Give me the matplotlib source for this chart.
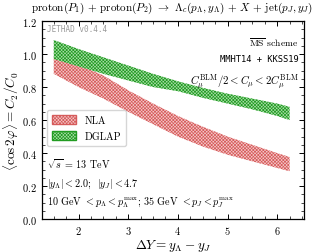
import numpy as np
import matplotlib
matplotlib.use('Agg')
import matplotlib.pyplot as plt
from matplotlib.patches import Patch
from matplotlib.ticker import MultipleLocator

plt.rcParams['font.family'] = 'serif'
plt.rcParams['font.serif'] = ['cmr10', 'DejaVu Serif']
plt.rcParams['mathtext.fontset'] = 'cm'
plt.rcParams['axes.formatter.use_mathtext'] = True
plt.rcParams['hatch.linewidth'] = 0.5

# rapidity interval
dY = [1.5, 2.0, 2.5, 3.0, 3.5, 4.0, 4.5, 5.0, 5.5, 6.0, 6.25]

# NLA band (lower / upper)
nla_lo = [0.88, 0.80, 0.73, 0.65, 0.575, 0.50, 0.44, 0.39, 0.35, 0.31, 0.29]
nla_hi = [0.98, 0.935, 0.87, 0.78, 0.70, 0.625, 0.56, 0.50, 0.45, 0.40, 0.376]

# DGLAP band (lower / upper)
dglap_lo = [0.97, 0.925, 0.88, 0.84, 0.80, 0.775, 0.735, 0.70, 0.665, 0.625, 0.60]
dglap_hi = [1.085, 1.03, 0.98, 0.93, 0.88, 0.835, 0.795, 0.76, 0.73, 0.70, 0.68]

fig = plt.figure(figsize=(3.22, 2.53), dpi=100)
ax = fig.add_axes([0.130, 0.130, 0.814, 0.783])

red_face, red_edge = '#f5c8c8', '#d65c5c'
grn_face, grn_edge = '#a8dca8', '#229c22'
red_hatch = 'x' * 10
grn_hatch = 'x' * 10

ax.fill_between(dY, nla_lo, nla_hi, facecolor=red_face, edgecolor=red_edge,
                hatch=red_hatch, linewidth=0.0)
ax.fill_between(dY, dglap_lo, dglap_hi, facecolor=grn_face, edgecolor=grn_edge,
                hatch=grn_hatch, linewidth=0.0)

ax.set_xlim(1.26, 6.54)
ax.set_ylim(0.0, 1.2)
ax.xaxis.set_major_locator(MultipleLocator(1))
ax.xaxis.set_minor_locator(MultipleLocator(0.25))
ax.yaxis.set_major_locator(MultipleLocator(0.2))
ax.yaxis.set_minor_locator(MultipleLocator(0.05))
ax.tick_params(which='both', direction='in', top=True, right=True, labelsize=7.5)
ax.tick_params(which='major', length=3.5, width=0.7)
ax.tick_params(which='minor', length=2, width=0.5)
for s in ax.spines.values():
    s.set_linewidth(0.9)

ax.set_xlabel(r'$\Delta Y = y_\Lambda - y_J$', fontsize=9.5, labelpad=1)
ax.set_ylabel(r'$\langle \cos 2\varphi \rangle = C_2/C_0$', fontsize=9.5, labelpad=1)
fig.suptitle(r'proton$(P_1)$ + proton$(P_2)$ $\to$ $\Lambda_c(p_\Lambda, y_\Lambda)$ + $X$ + jet$(p_J, y_J)$',
             fontsize=8, x=0.535, y=0.998)

ax.text(0.02, 0.985, 'JETHAD v0.4.4', transform=ax.transAxes, fontsize=5.5,
        family='DejaVu Sans Mono', color='#999999', va='top', ha='left')
ax.text(0.98, 0.93, r'$\overline{\rm MS}$ scheme', transform=ax.transAxes,
        fontsize=7, va='top', ha='right')
ax.text(0.98, 0.835, 'MMHT14 + KKSS19', transform=ax.transAxes, fontsize=6.3,
        family='DejaVu Sans Mono', va='top', ha='right')
ax.text(0.98, 0.745, r'$C_\mu^{\rm BLM}/2 < C_\mu < 2C_\mu^{\rm BLM}$',
        transform=ax.transAxes, fontsize=7.8, va='top', ha='right')

ax.text(0.02, 0.28, r'$\sqrt{s}$ = 13 TeV', transform=ax.transAxes, fontsize=7.3, va='center')
ax.text(0.02, 0.18, r'$|y_\Lambda| < 2.0$;  $|y_J| < 4.7$', transform=ax.transAxes,
        fontsize=7.3, va='center')
ax.text(0.02, 0.085, r'10 GeV $< p_\Lambda < p_\Lambda^{\rm max}$; 35 GeV $< p_J < p_J^{\rm max}$',
        transform=ax.transAxes, fontsize=7.3, va='center')

handles = [Patch(facecolor=red_face, edgecolor=red_edge, hatch=red_hatch, label='NLA'),
           Patch(facecolor=grn_face, edgecolor=grn_edge, hatch=grn_hatch, label='DGLAP')]
ax.legend(handles=handles, loc='upper left', bbox_to_anchor=(0.0, 0.575),
          fontsize=7.3, frameon=True, fancybox=True, handlelength=2.4,
          handleheight=0.9, borderpad=0.5, labelspacing=0.6)

fig.savefig('out.png', dpi=100)
